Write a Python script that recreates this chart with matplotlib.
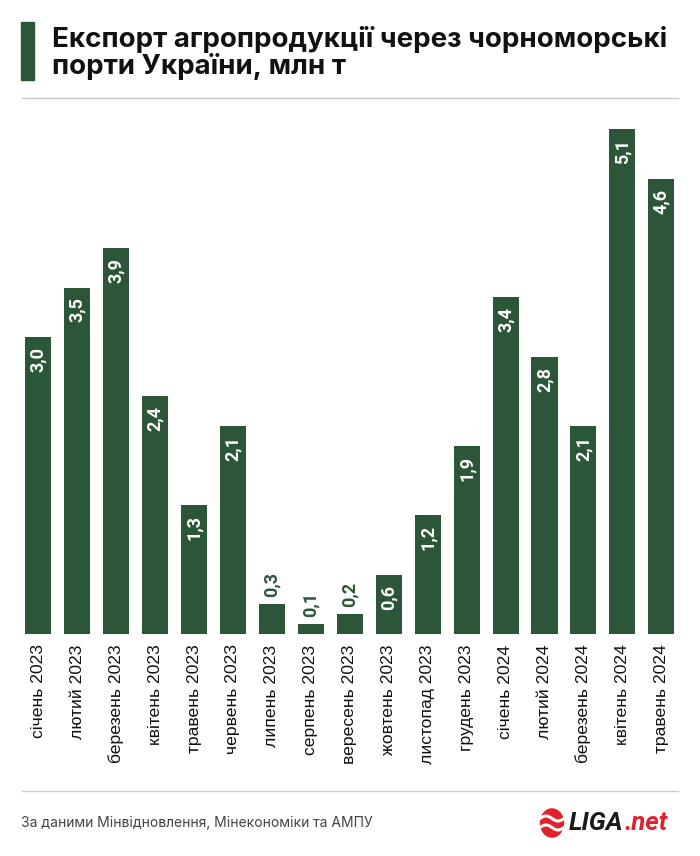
import matplotlib
matplotlib.use("Agg")
import matplotlib.pyplot as plt
from matplotlib.patches import Rectangle, Circle
from matplotlib.lines import Line2D
from matplotlib.transforms import offset_copy
import numpy as np

months = ["січень 2023", "лютий 2023", "березень 2023", "квітень 2023", "травень 2023",
          "червень 2023", "липень 2023", "серпень 2023", "вересень 2023", "жовтень 2023",
          "листопад 2023", "грудень 2023", "січень 2024", "лютий 2024", "березень 2024",
          "квітень 2024", "травень 2024"]
values = [3.0, 3.5, 3.9, 2.4, 1.3, 2.1, 0.3, 0.1, 0.2, 0.6, 1.2, 1.9, 3.4, 2.8, 2.1, 5.1, 4.6]

title_lines = ["Експорт агропродукції через чорноморські", "порти України, млн т"]
source = "За даними Мінвідновлення, Мінекономіки та АМПУ"

GREEN = "#2b5637"
W, H = 700, 856
fig = plt.figure(figsize=(W/100, H/100), dpi=100)
fig.patch.set_facecolor("white")
renderer = fig.canvas.get_renderer()

n = len(values)
left_px, right_px = 18.8, 680.8
bottom_px = 634
ymax = 5.3
px_per_unit = 99.0
top_px = bottom_px - ymax*px_per_unit
ax = fig.add_axes([left_px/W, 1 - bottom_px/H, (right_px-left_px)/W, (bottom_px-top_px)/H])
x = list(range(n))
ax.bar(x, values, width=0.668, color=GREEN)
ax.set_xlim(-0.5, n-0.5)
ax.set_ylim(0, ymax)
for s in ax.spines.values():
    s.set_visible(False)
ax.set_yticks([])
ax.set_xticks(x)
ax.set_xticklabels(months, rotation=90, fontsize=12.6, family="Liberation Sans", color="#111111")
ax.tick_params(axis="x", length=0, pad=7.5)

for xi, v in zip(x, values):
    lab = f"{v:.1f}".replace(".", ",")
    if v >= 0.5:
        tr = offset_copy(ax.transData, fig=fig, x=0, y=-10, units="dots")
        ax.text(xi, v, lab, transform=tr, rotation=90, ha="center", va="top",
                color="white", fontsize=13, fontweight="bold", family="Roboto")
    else:
        tr = offset_copy(ax.transData, fig=fig, x=0, y=7, units="dots")
        ax.text(xi, v, lab, transform=tr, rotation=90, ha="center", va="bottom",
                color=GREEN, fontsize=13, fontweight="bold", family="Roboto")

# title bar
fig.patches.append(Rectangle((21/W, 1-80/H), 12.5/W, 58/H, transform=fig.transFigure,
                             color=GREEN, zorder=3))
# title text, scaled to the measured width
fs = 17.5
t1 = fig.text(52/W, 1-47/H, title_lines[0], ha="left", va="baseline", fontsize=fs,
              fontweight="bold", family="Inter", color="#111111")
wpx = t1.get_window_extent(renderer).width
fs = fs * 616.0 / wpx
t1.set_fontsize(fs)
fig.text(52/W, 1-73.5/H, title_lines[1], ha="left", va="baseline", fontsize=fs,
         fontweight="bold", family="Inter", color="#111111")

# separator lines
fig.add_artist(Line2D([22/W, 678/W], [1-98/H, 1-98/H], color="#c8c8c8", lw=1))
fig.add_artist(Line2D([22/W, 678/W], [1-791/H, 1-791/H], color="#c9d3d6", lw=1))

# footer
fig.text(21/W, 1-823/H, source, ha="left", va="center", fontsize=10.0, family="Inter",
         color="#444444")

# logo
RED = "#e3202a"
lx, ly, r = 552, 823, 11.5
fig.patches.append(Circle((lx/W, 1-ly/H), r/W, transform=fig.transFigure, color=RED,
                          zorder=3))
tt = np.linspace(-1, 1, 50)
for dy in (-4.5, 4.5):
    xs = lx + tt*r*1.05
    ys = ly + dy + 2.5*np.sin(tt*np.pi)
    fig.add_artist(Line2D(xs/W, 1-ys/H, color="white", lw=2.2, zorder=4))
tl = fig.text(569/W, 1-823/H, "LIGA", ha="left", va="center", fontsize=18.5, fontweight="bold",
              style="italic", color="#1a1a1a", family="Roboto")
ext = tl.get_window_extent(renderer)
fig.text((ext.x1 + 0.5)/W, 1-823/H, ".net", ha="left", va="center", fontsize=18.5,
         fontweight="bold", style="italic", color=RED, family="Roboto")

fig.savefig("out.png", dpi=100, facecolor="white")
